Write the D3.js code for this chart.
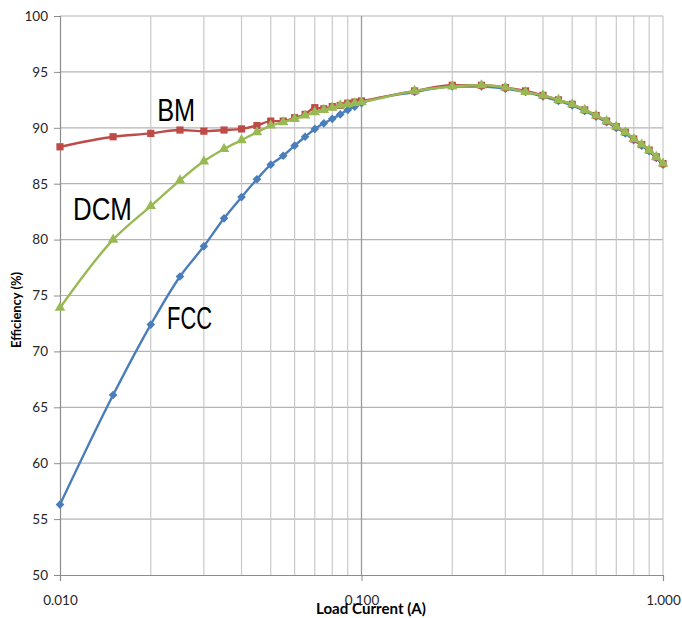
<!DOCTYPE html>
<html>
<head>
<meta charset="utf-8">
<script src="https://cdn.jsdelivr.net/npm/d3@7"></script>
<style>
  html, body { margin: 0; padding: 0; background: #fff; }
  svg { display: block; }
</style>
</head>
<body>
<svg id="chart" width="682" height="618"></svg>
<script>
// ---- data ----
const loadCurrent = [0.01, 0.015, 0.02, 0.025, 0.03, 0.035, 0.04, 0.045, 0.05, 0.055,
  0.06, 0.065, 0.07, 0.075, 0.08, 0.085, 0.09, 0.095, 0.1, 0.15,
  0.2, 0.25, 0.3, 0.35, 0.4, 0.45, 0.5, 0.55, 0.6, 0.65,
  0.7, 0.75, 0.8, 0.85, 0.9, 0.95, 1.0];
const bmEff = [88.3, 89.2, 89.5, 89.8, 89.7, 89.8, 89.9, 90.2, 90.6, 90.6,
  90.9, 91.2, 91.8, 91.7, 91.9, 92.0, 92.2, 92.3, 92.4, 93.3,
  93.8, 93.8, 93.6, 93.3, 92.9, 92.5, 92.1, 91.6, 91.1, 90.6,
  90.1, 89.6, 89.0, 88.5, 88.0, 87.4, 86.8];
const dcmEff = [73.9, 80.0, 83.0, 85.3, 87.0, 88.1, 88.9, 89.6, 90.2, 90.5,
  90.8, 91.1, 91.4, 91.6, 91.8, 92.0, 92.1, 92.2, 92.3, 93.3,
  93.7, 93.8, 93.6, 93.2, 92.9, 92.5, 92.1, 91.6, 91.1, 90.6,
  90.1, 89.6, 89.0, 88.5, 88.0, 87.4, 86.8];
const fccEff = [56.3, 66.1, 72.4, 76.7, 79.4, 81.9, 83.8, 85.4, 86.7, 87.5,
  88.4, 89.2, 89.9, 90.4, 90.8, 91.2, 91.6, 91.9, 92.2, 93.2,
  93.7, 93.7, 93.5, 93.2, 92.8, 92.4, 92.0, 91.5, 91.0, 90.5,
  90.0, 89.5, 88.9, 88.4, 87.9, 87.3, 86.7];
const seriesNames = ["FCC", "BM", "DCM"];
const xTickValues = [0.01, 0.1, 1.0];
const yTickValues = [50, 55, 60, 65, 70, 75, 80, 85, 90, 95, 100];
const xMinorGrid = [0.02, 0.03, 0.04, 0.05, 0.06, 0.07, 0.08, 0.09,
  0.2, 0.3, 0.4, 0.5, 0.6, 0.7, 0.8, 0.9, 1.0];

// ---- layout ----
const svg = d3.select("#chart");
const pLeft = 60, pRight = 663, pTop = 16, pBottom = 575;
const x = d3.scaleLog().domain([0.01, 1]).range([pLeft, pRight]);
const y = d3.scaleLinear().domain([50, 100]).range([pBottom, pTop]);

const tickFont = "Lato, 'Open Sans', sans-serif";

// horizontal grid
svg.append("g").selectAll("line").data(yTickValues.filter(v => v > 50)).join("line")
  .attr("x1", pLeft).attr("x2", pRight)
  .attr("y1", d => y(d)).attr("y2", d => y(d))
  .attr("stroke", "#b3b3b3").attr("stroke-width", 1.2);

// vertical minor grid
svg.append("g").selectAll("line").data(xMinorGrid).join("line")
  .attr("x1", d => x(d)).attr("x2", d => x(d))
  .attr("y1", pTop).attr("y2", pBottom)
  .attr("stroke", "#c9c9c9").attr("stroke-width", 1.2);
// major grid at 0.1
svg.append("line")
  .attr("x1", x(0.1)).attr("x2", x(0.1)).attr("y1", pTop).attr("y2", pBottom)
  .attr("stroke", "#9a9a9a").attr("stroke-width", 1.3);

// axes
const yAxis = d3.axisLeft(y).tickValues(yTickValues).tickSize(6).tickPadding(6)
  .tickFormat(d3.format("d"));
const gy = svg.append("g").attr("transform", `translate(${pLeft},0)`).call(yAxis);
gy.select(".domain").attr("stroke", "#8c8c8c").attr("stroke-width", 1.2);
gy.selectAll(".tick line").attr("stroke", "#8c8c8c");
gy.selectAll("text").attr("font-family", tickFont).attr("font-size", 13.5).attr("fill", "#262626");

const xAxis = d3.axisBottom(x).tickValues(xTickValues).tickSize(6).tickPadding(14)
  .tickFormat(d3.format(".3f"));
const gx = svg.append("g").attr("transform", `translate(0,${pBottom})`).call(xAxis);
gx.select(".domain").attr("stroke", "#8c8c8c").attr("stroke-width", 1.2);
gx.selectAll(".tick line").attr("stroke", "#8c8c8c");
gx.selectAll("text").attr("font-family", tickFont).attr("font-size", 13.5).attr("fill", "#262626");

// axis titles
svg.append("text").attr("x", 371).attr("y", 614).attr("text-anchor", "middle")
  .attr("font-family", tickFont).attr("font-weight", "bold").attr("font-size", 14.5)
  .attr("textLength", 110).attr("lengthAdjust", "spacingAndGlyphs")
  .attr("fill", "#000").text("Load Current (A)");
svg.append("text").attr("transform", "translate(21,310) rotate(-90)")
  .attr("text-anchor", "middle")
  .attr("font-family", tickFont).attr("font-weight", "bold").attr("font-size", 13)
  .attr("textLength", 76).attr("lengthAdjust", "spacingAndGlyphs")
  .attr("fill", "#000").text("Efficiency (%)");

// series
const series = [
  { name: "FCC", values: fccEff, color: "#4A7EBB", marker: "diamond" },
  { name: "BM", values: bmEff, color: "#BE4B48", marker: "square" },
  { name: "DCM", values: dcmEff, color: "#98B954", marker: "triangle" }
];
const line = d3.line().x(d => x(d[0])).y(d => y(d[1])).curve(d3.curveMonotoneX);
const symbolFor = {
  diamond: d3.symbol().type(d3.symbolDiamond2).size(48),
  square: d3.symbol().type(d3.symbolSquare).size(52),
  triangle: d3.symbol().type(d3.symbolTriangle).size(48)
};
series.forEach(s => {
  const pts = loadCurrent.map((c, i) => [c, s.values[i]]);
  const g = svg.append("g");
  g.append("path").datum(pts).attr("d", line)
    .attr("fill", "none").attr("stroke", s.color).attr("stroke-width", 2.4);
  g.selectAll("path.m").data(pts).join("path").attr("class", "m")
    .attr("transform", d => `translate(${x(d[0])},${y(d[1])})`)
    .attr("d", symbolFor[s.marker]).attr("fill", s.color);
});

// annotations
const annFont = "'Liberation Sans', Arial, sans-serif";
const labels = [
  { text: "BM", at: [0.0210, 90.6], w: 38 },
  { text: "DCM", at: [0.01104, 81.75], w: 59 },
  { text: "FCC", at: [0.02265, 72.0], w: 45 }
];
svg.append("g").selectAll("text").data(labels).join("text")
  .attr("x", d => x(d.at[0])).attr("y", d => y(d.at[1]))
  .attr("font-family", annFont).attr("font-size", 32).attr("fill", "#000")
  .attr("textLength", d => d.w).attr("lengthAdjust", "spacingAndGlyphs")
  .text(d => d.text);
</script>
</body>
</html>
